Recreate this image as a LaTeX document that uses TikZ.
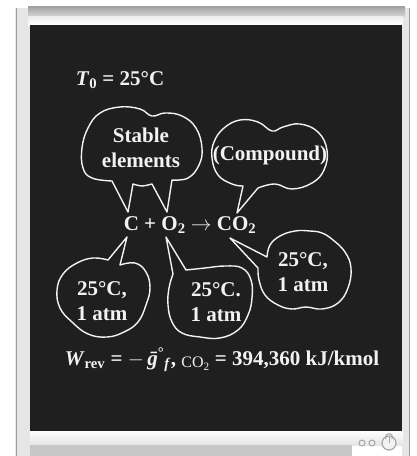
\documentclass[tikz,border=0pt]{standalone}
\usepackage{fontspec}
\setmainfont{Liberation Serif}
\usepackage{tikz}
\usetikzlibrary{calc,positioning}
\definecolor{board}{HTML}{1F1F1F}
\definecolor{chalkwhite}{HTML}{F2F2F2}
\definecolor{framelight}{HTML}{E6E6E6}
\definecolor{framegray}{HTML}{9A9A9A}

\begin{document}
\begin{tikzpicture}[x=1pt,y=-1pt,
    chalk/.style={text=chalkwhite,font=\bfseries\fontsize{21}{25}\selectfont,inner sep=0pt,align=center},
    bubble/.style={draw=chalkwhite,line width=1.4pt,line join=round}]
      \useasboundingbox (0,0) rectangle (416,456);
      \fill[white] (0,0) rectangle (416,456);
      % Frame of the board
      \fill[framelight] (15,8) rectangle (30,456);
      \draw[framegray] (16,8) -- (16,456);
      \fill[framelight] (402,8) rectangle (410,456);
      \draw[framegray] (409,8) -- (409,456);
      \shade[top color=gray!75,bottom color=gray!35] (28,6) rectangle (405,16);
      \shade[top color=gray!15,bottom color=white] (28,16) rectangle (403,25);
      \shade[top color=white,bottom color=gray!20] (30,430) rectangle (403,445);
      \fill[gray!45] (30,445) rectangle (352,456);
      % Board
      \fill[board] (30,25) rectangle (402,431);
      % Icons in the corner
      \draw[gray!70,line width=1pt,fill=gray!15] (362,443) circle (3);
      \draw[gray!70,line width=1pt,fill=gray!15] (372,443) circle (3);
      \draw[gray!70,line width=1.2pt,fill=gray!10] (389,443) circle (7);
      \draw[gray!70,line width=1pt] (386,439) arc (150:390:3.6);
      \draw[gray!70,line width=1pt] (389,437) -- (389,443);
      % Texts
      \node[chalk,anchor=base] (ambient) at (120,85) {\textit{T}\textsubscript{0} = 25°C};
      \node[chalk] (stable) at (141,148) {Stable\\elements};
      \node[chalk] (compound) at (270,155) {(Compound)};
      \node[chalk,anchor=base] (reaction) at (190,230) {C + O\textsubscript{2} $\rightarrow$ CO\textsubscript{2}};
      \node[chalk] (atmC) at (102,301) {25°C,\\1 atm};
      \node[chalk] (atmO) at (216,302) {25°C.\\1 atm};
      \node[chalk] (atmCO) at (303,272) {25°C,\\1 atm};
      \node[chalk,anchor=base] (work) at (222,365) {\textit{W}\textsubscript{rev} = $-$\,\textit{\={g}}\textsuperscript{°}\textsubscript{\textit{f}}, \raisebox{-0.3ex}{\mdseries\fontsize{16}{16}\selectfont CO\textsubscript{2}} = 394,360 kJ/kmol};
      % Tips of the bubbles
      \coordinate (tipC) at (128,212);
      \coordinate (tipO) at (167,212);
      \coordinate (tipCO) at (237,213);
      \coordinate (tipCb) at (127,237);
      \coordinate (tipOb) at (166,237);
      \coordinate (tipCOb) at (230,238);
      % Bubble with two tails
      \draw[bubble] plot[smooth,tension=0.7] coordinates {(172,180) (188,178) (199,165) (202,148) (196,128) (182,116) (165,113) (152,116) (140,109) (120,107) (100,113) (88,128) (82,148) (83,168) (92,178) (112,181)}
        -- (tipC) -- plot[smooth] coordinates {(133,184) (142,186) (152,184)} -- (tipO) -- cycle;
      \draw[bubble] plot[smooth,tension=0.7] coordinates {(258,188) (275,184) (292,189) (312,183) (324,170) (327,150) (318,132) (300,124) (283,127) (272,131) (258,122) (240,120) (224,128) (214,142) (212,158) (218,175) (232,184) (243,186)}
        -- (tipCO) -- cycle;
      % Bubbles below the reaction
      \draw[bubble] plot[smooth,tension=0.7] coordinates {(120,265) (135,263) (146,272) (150,288) (146,305) (138,322) (124,332) (107,337) (88,334) (72,322) (60,308) (57,290) (63,274) (77,263) (93,258) (108,260)}
        -- (tipCb) -- cycle;
      \draw[bubble] plot[smooth,tension=0.7] coordinates {(186,270) (205,268) (225,266) (242,268) (251,280) (252,298) (248,315) (238,330) (220,338) (200,337) (182,333) (172,322) (168,305) (169,288) (173,274)}
        -- (tipOb) -- cycle;
      \draw[bubble] plot[smooth,tension=0.7] coordinates {(258,268) (259,280) (265,295) (278,305) (292,309) (306,307) (322,309) (338,303) (348,288) (351,268) (345,252) (333,240) (322,233) (310,231) (295,231) (280,236) (270,245) (267,257)}
        -- (tipCOb) -- cycle;
\end{tikzpicture}
\end{document}
